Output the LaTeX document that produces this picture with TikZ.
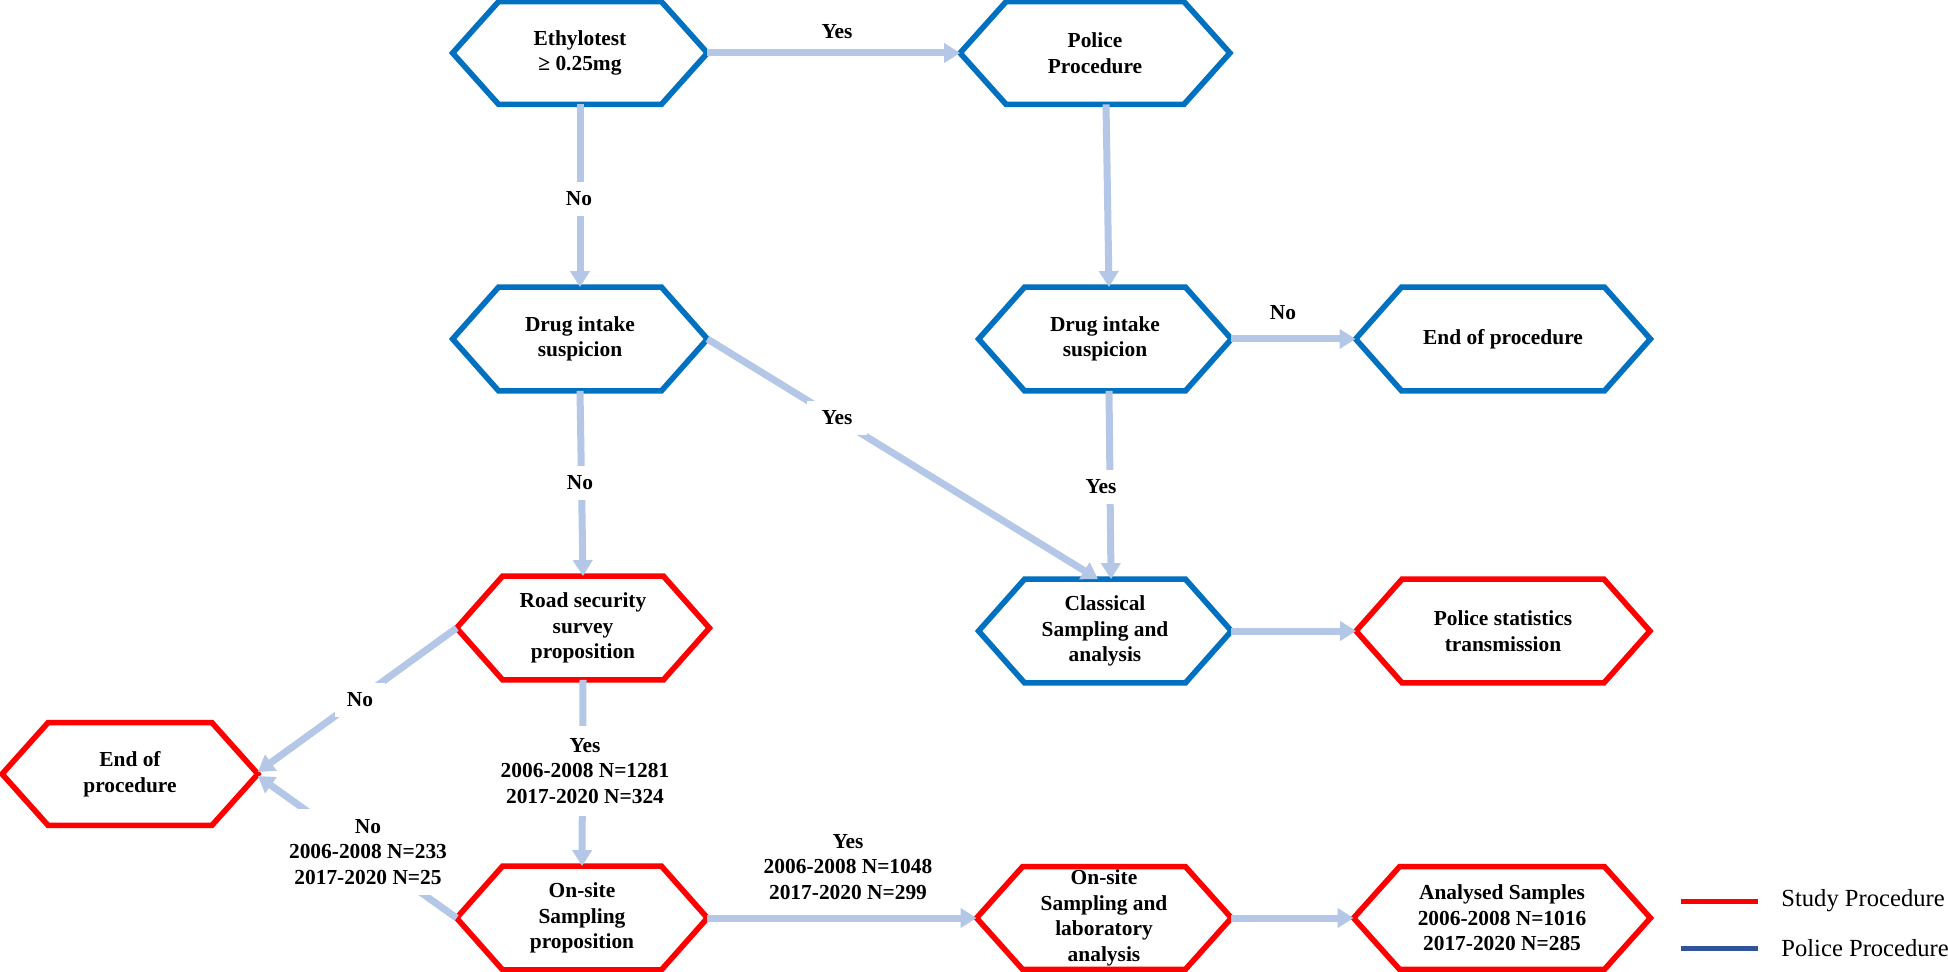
\documentclass[tikz,border=0pt]{standalone}
\usepackage{fontspec}
\setmainfont{Liberation Serif}
\usetikzlibrary{arrows.meta}
\definecolor{pblue}{RGB}{0,112,192}
\definecolor{sred}{RGB}{255,0,0}
\definecolor{arr}{RGB}{180,199,231}
\definecolor{legblue}{RGB}{47,85,151}
\newcommand\hexdraw[2]{\draw[#2, line width=2.8pt, line join=miter] (#1.west) -- ([xshift=23pt]#1.north west) -- ([xshift=-23pt]#1.north east) -- (#1.east) -- ([xshift=-23pt]#1.south east) -- ([xshift=23pt]#1.south west) -- cycle;}
\begin{document}
\begin{tikzpicture}[x=0.5pt,y=-0.5pt,
  box/.style 2 args={inner sep=0pt, minimum width=#1*0.5pt, minimum height=#2*0.5pt, align=center, font=\bfseries\fontsize{10.7}{12.75}\selectfont},
  flow/.style={draw=arr, line width=3.5pt, -{Triangle[width=9.5pt,length=8pt]}},
  lbl/.style={fill=white, inner xsep=3pt, inner ysep=5pt, align=center, font=\bfseries\fontsize{10.7}{12.75}\selectfont},
  lab/.style={inner sep=1pt, align=center, font=\bfseries\fontsize{10.7}{12.75}\selectfont},
  legtxt/.style={anchor=west, inner sep=0pt, font=\fontsize{12.3}{14}\selectfont}
]
\fill[white] (0,0) rectangle (1948,972);
\useasboundingbox (0,0) rectangle (1948,972);

% nodes
\node[box={254}{102}] (eth) at (580,53) {Ethylotest\\≥ 0.25mg};
\node[box={269}{102}] (pol) at (1095,53) {Police\\Procedure};
\node[box={254}{103}] (drugL) at (580,339) {Drug intake\\suspicion};
\node[box={252}{103}] (drugR) at (1105,339) {Drug intake\\suspicion};
\node[box={294}{103}] (endR) at (1503,339) {End of procedure};
\node[box={252}{103}] (road) at (583,628) {Road security\\survey\\proposition};
\node[box={252}{103}] (cls) at (1105,631) {Classical\\Sampling and\\analysis};
\node[box={293}{103}] (stats) at (1503,631) {Police statistics\\transmission};
\node[box={255}{102}] (endL) at (130,774) {End of\\procedure};
\node[box={250}{103}] (onsite) at (582,918) {On-site\\Sampling\\proposition};
\node[box={254}{102}] (labo) at (1104,918) {On-site\\Sampling and\\laboratory\\analysis};
\node[box={296}{102}] (anal) at (1502,918) {Analysed Samples\\2006-2008 N=1016\\2017-2020 N=285};

% hexagons
\hexdraw{eth}{pblue}
\hexdraw{pol}{pblue}
\hexdraw{drugL}{pblue}
\hexdraw{drugR}{pblue}
\hexdraw{endR}{pblue}
\hexdraw{cls}{pblue}
\hexdraw{road}{sred}
\hexdraw{stats}{sred}
\hexdraw{endL}{sred}
\hexdraw{onsite}{sred}
\hexdraw{labo}{sred}
\hexdraw{anal}{sred}

% connectors
\draw[flow] (eth.east) -- (pol.west);
\draw[flow] (eth.south) -- (drugL.north);
\draw[flow] ([xshift=5.5pt]pol.south) -- ([xshift=2pt]drugR.north);
\draw[flow] (drugR.east) -- (endR.west);
\draw[flow] (drugL.east) -- ([xshift=-3.5pt]cls.north);
\draw[flow] (drugL.south) -- (road.north);
\draw[flow] ([xshift=2pt]drugR.south) -- ([xshift=3pt]cls.north);
\draw[flow] (cls.east) -- (stats.west);
\draw[flow] (road.west) -- ([yshift=1pt]endL.east);
\draw[flow] (road.south) -- (onsite.north);
\draw[flow] (onsite.west) -- ([yshift=-1pt]endL.east);
\draw[flow] (onsite.east) -- (labo.west);
\draw[flow] (labo.east) -- (anal.west);

% connector labels
\node[lab] (l1) at (837,32) {Yes};
\node[lbl] (l2) at (579,199) {No};
\node[lbl, inner xsep=7.5pt] (l3) at (837,418) {Yes};
\node[lbl] (l4) at (580,483) {No};
\node[lab] (l5) at (1283,313) {No};
\node[lbl] (l6) at (1101,487) {Yes};
\node[lbl, inner xsep=6pt] (l7) at (360,700) {No};
\node[lbl, inner ysep=6pt] (l8) at (585,771) {Yes\\2006-2008 N=1281\\2017-2020 N=324};
\node[lbl] (l9) at (368,852) {No\\2006-2008 N=233\\2017-2020 N=25};
\node[lab] (l10) at (848,867) {Yes\\2006-2008 N=1048\\2017-2020 N=299};

% legend
\node[legtxt] (leg1) at (1781,901) {Study Procedure};
\node[legtxt] (leg2) at (1781,948) {Police Procedure};
\draw[sred, line width=2.5pt] ([xshift=-11.5pt]leg1.west) -- ++(-77,0);
\draw[legblue, line width=2.5pt] ([xshift=-11.5pt]leg2.west) -- ++(-77,0);
\end{tikzpicture}
\end{document}
